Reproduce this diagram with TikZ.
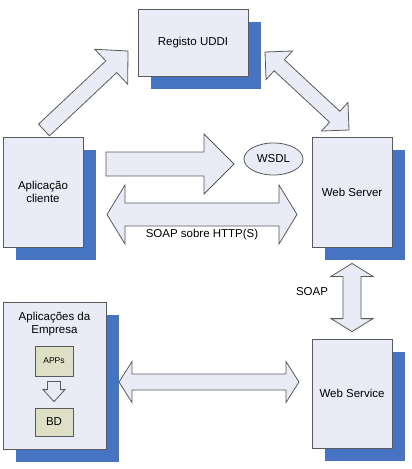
\documentclass[tikz,border=0pt]{standalone}
\usepackage{fontspec}
\setmainfont{Liberation Sans}
\usetikzlibrary{calc,shadows,shapes.geometric}

\definecolor{boxfill}{HTML}{E9ECF6}
\definecolor{shadowblue}{HTML}{4673C2}
\definecolor{dbfill}{HTML}{DEE0C6}
\definecolor{edge}{HTML}{5A5A5A}

\tikzset{
	box/.style={draw=edge, fill=boxfill, line width=0.8pt, align=center,
		general shadow={fill=shadowblue, shadow xshift=13pt, shadow yshift=-13pt}},
	smallbox/.style={draw=edge, fill=dbfill, line width=0.8pt},
	blockarr/.style={draw=edge, fill=boxfill, line width=0.8pt, line join=miter},
}

% single block arrow: from, to, shaft half width, head half width, head length
\newcommand{\singlearr}[5]{%
	\coordinate (hb) at ($(#2)!#5!(#1)$);
	\draw[blockarr] ($(#1)!#3!90:(#2)$) -- ($(hb)!#3!-90:(#1)$) -- ($(hb)!#4!-90:(#1)$) -- (#2)
		-- ($(hb)!#4!90:(#1)$) -- ($(hb)!#3!90:(#1)$) -- ($(#1)!#3!-90:(#2)$) -- cycle;
}
% double block arrow: same arguments
\newcommand{\doublearr}[5]{%
	\coordinate (ha) at ($(#1)!#5!(#2)$);
	\coordinate (hb) at ($(#2)!#5!(#1)$);
	\draw[blockarr] (#1) -- ($(ha)!#4!90:(hb)$) -- ($(ha)!#3!90:(hb)$) -- ($(hb)!#3!-90:(ha)$)
		-- ($(hb)!#4!-90:(ha)$) -- (#2) -- ($(hb)!#4!90:(ha)$) -- ($(hb)!#3!90:(ha)$)
		-- ($(ha)!#3!-90:(hb)$) -- ($(ha)!#4!-90:(hb)$) -- cycle;
}

\begin{document}
\begin{tikzpicture}[x=1pt, y=-1pt, font=\fontsize{11.5}{13.5}\selectfont]
	\useasboundingbox (0,0) rectangle (412,469);

%boxes
	\foreach \name/\x/\y/\w/\h/\txt in {uddi/193/42.5/110/67/{Registo UDDI},
		cliente/43/192/80/110/{Aplica\c{c}\~ao\\cliente}, server/352/192/80/110/{Web Server},
		service/352/393.5/80/109/{Web Service}, empresa/54.5/375.5/103/147/{}} {
		\node[box, minimum width=\w pt, minimum height=\h pt] (\name) at (\x,\y) {\txt};
	}
	\node[anchor=north, align=center] (empresaTxt) at ($(empresa.north)+(0,7)$) {Aplica\c{c}\~oes da\\Empresa};

	\node[smallbox, minimum width=38pt, minimum height=30pt, font=\fontsize{8.5}{10}\selectfont] (apps) at (54,361) {APPs};
	\node[smallbox, minimum width=38pt, minimum height=28pt] (bd) at (54,422) {BD};

	\node[ellipse, draw=edge, fill=boxfill, line width=0.8pt, minimum width=59pt, minimum height=32pt, inner sep=0pt] (wsdl) at (273.5,159) {WSDL};

%arrow ends
	\foreach \n/\x/\y in {cliUp/44/130, uddiIn/128/51, uddiOut/265/52, srvIn/349/130,
		cliOut/106/164, wsdlIn/234/164, httpL/107/214.5, httpR/297/214.5,
		empOut/119/382, svcIn/299/382} {
		\coordinate (\n) at (\x,\y);
	}
	\coordinate (srvDown) at ($(server.south)+(0,16)$);
	\coordinate (svcUp) at ($(service.north)+(0,-7)$);
	\coordinate (appsDown) at ($(apps.south)+(0,5)$);
	\coordinate (bdUp) at ($(bd.north)+(0,-6)$);

%arrows
	\singlearr{cliUp}{uddiIn}{8pt}{24pt}{23pt}
	\doublearr{uddiOut}{srvIn}{7.5pt}{19.5pt}{19.5pt}
	\singlearr{cliOut}{wsdlIn}{12pt}{30pt}{30pt}
	\doublearr{httpL}{httpR}{11.5pt}{29.5pt}{18pt}
	\doublearr{srvDown}{svcUp}{9pt}{21pt}{13pt}
	\doublearr{empOut}{svcIn}{8pt}{20.5pt}{13pt}
	\singlearr{appsDown}{bdUp}{6.5pt}{11pt}{12pt}

%labels
	\node (soapHttp) at (202,235) {SOAP sobre HTTP(S)};
	\node (soapLbl) at (312,292) {SOAP};

\end{tikzpicture}
\end{document}
